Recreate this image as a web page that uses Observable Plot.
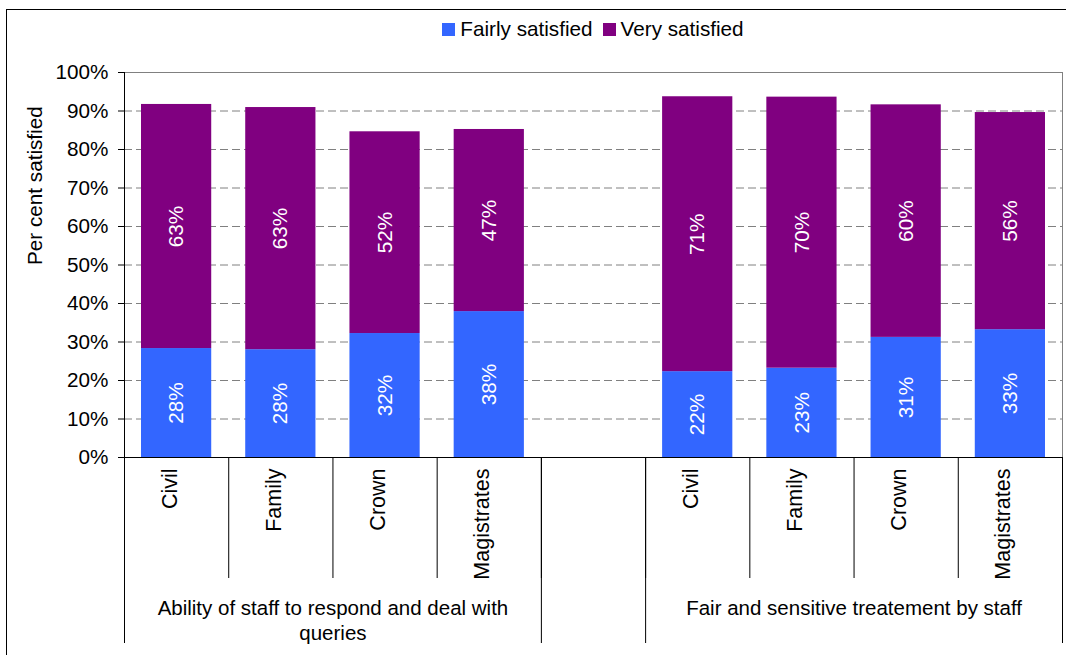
<!DOCTYPE html>
<html><head><meta charset="utf-8">
<script src="https://cdn.jsdelivr.net/npm/d3@7"></script>
<script src="https://cdn.jsdelivr.net/npm/@observablehq/plot@0.6"></script>
<style>
html,body{margin:0;padding:0;background:#fff;overflow:hidden}
#wrap{position:relative;width:1066px;height:655px;font-family:"Liberation Sans",Arial,sans-serif;overflow:hidden}
#frame{position:absolute;left:6px;top:9px;width:1100px;height:700px;border:1px solid #000;box-sizing:border-box;pointer-events:none}
#legend{height:50px;display:flex;justify-content:center;align-items:flex-start;padding:17px 4px 0 124px;box-sizing:border-box;font-size:20.7px;color:#000}
.item{display:flex;align-items:center;line-height:24px}
.sw{width:13px;height:13px;margin-right:5px}
#chart svg{display:block}
</style></head>
<body><div id="wrap"><div id="legend"></div><div id="chart"></div><div id="frame"></div></div>
<script>
// ---- data ----
const categories = ["Civil", "Family", "Crown", "Magistrates"];
const groups = ["Ability of staff to respond and deal with\nqueries", "Fair and sensitive treatement by staff"];
const series = ["Fairly satisfied", "Very satisfied"];
const colors = ["#3366FF", "#800080"];
const fairly = [28.3, 28.0, 32.2, 37.9, 22.3, 23.2, 31.2, 33.2];
const very   = [63.4, 62.9, 52.4, 47.3, 71.4, 70.4, 60.4, 56.4];
const yTicks = [0, 10, 20, 30, 40, 50, 60, 70, 80, 90, 100];

// slot positions: 4 bars, an empty slot, 4 bars
const slots = [];
groups.forEach((g, gi) => categories.forEach((c, ci) => slots.push(gi * (categories.length + 1) + ci)));
const nSlots = groups.length * (categories.length + 1) - 1;

const rows = [];
slots.forEach((s, i) => {
  rows.push({x1: s, x2: s + 1, y1: 0, y2: fairly[i], v: fairly[i], series: series[0]});
  rows.push({x1: s, x2: s + 1, y1: fairly[i], y2: fairly[i] + very[i], v: very[i], series: series[1]});
});
const catRows = slots.map((s, i) => ({xc: s + 0.5, label: categories[i % categories.length]}));
const groupRows = groups.map((g, gi) => ({xc: gi * (categories.length + 1) + categories.length / 2, label: g}));
const allBounds = d3.range(nSlots + 1);
const groupBounds = [0, categories.length, categories.length + 1, nSlots];

// ---- legend ----
const leg = document.getElementById("legend");
series.forEach((s, i) => {
  const it = document.createElement("div");
  it.className = "item";
  if (i < series.length - 1) it.style.marginRight = "10px";
  it.innerHTML = `<span class="sw" style="background:${colors[i]}"></span><span>${s}</span>`;
  leg.appendChild(it);
});

// ---- chart ----
const plot = Plot.plot({
  width: 1066, height: 605,
  marginLeft: 124, marginRight: 4, marginTop: 22, marginBottom: 198,
  style: {fontFamily: '"Liberation Sans", Arial, sans-serif', fontSize: "20.7px", color: "#000", background: "transparent", overflow: "visible"},
  x: {domain: [0, nSlots], axis: null},
  y: {domain: [0, 100], axis: null},
  color: {domain: series, range: colors},
  marks: [
    Plot.ruleY(yTicks.filter(t => t > 0 && t < 100), {stroke: "#808080", strokeDasharray: "8,4"}),
    Plot.ruleY([100], {stroke: "#808080"}),
    Plot.ruleX([nSlots], {y1: 0, y2: 100, stroke: "#808080"}),
    Plot.rectY(rows, {x1: "x1", x2: "x2", y1: "y1", y2: "y2", fill: "series", insetLeft: 17, insetRight: 17}),
    Plot.text(rows, {x: d => (d.x1 + d.x2) / 2, y: d => (d.y1 + d.y2) / 2, text: d => Math.round(d.v) + "%", rotate: -90, fill: "white"}),
    Plot.axisY({ticks: yTicks, tickFormat: d => d + "%", tickSize: 6, tickPadding: 10, label: null}),
    Plot.axisX({ticks: allBounds, tickSize: 121, tickFormat: () => "", label: null}),
    Plot.axisX({ticks: groupBounds, tickSize: 186, tickFormat: () => "", label: null}),
    Plot.ruleX([0], {y1: 0, y2: 100, stroke: "#000"}),
    Plot.ruleY([0], {stroke: "#000"}),
    Plot.text(catRows, {x: "xc", frameAnchor: "bottom", text: "label", rotate: -90, textAnchor: "end", dy: 11, fontSize: 21.5}),
    Plot.text(groupRows, {x: "xc", frameAnchor: "bottom", text: "label", lineAnchor: "top", lineHeight: 1.25, dy: 139, fontSize: 20.5}),
    Plot.text(["Per cent satisfied"], {frameAnchor: "left", text: d => d, rotate: -90, dx: -89})
  ]
});
document.getElementById("chart").appendChild(plot);
</script>
</body></html>
